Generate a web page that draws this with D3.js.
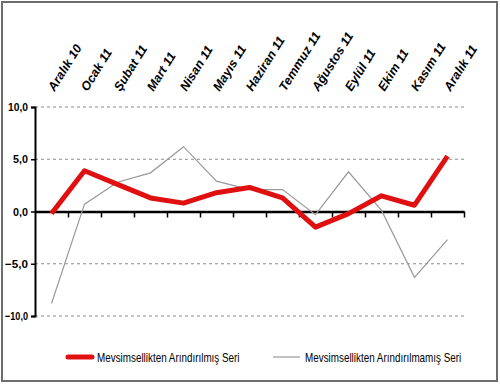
<!DOCTYPE html>
<html>
<head>
<meta charset="utf-8">
<script src="https://cdn.jsdelivr.net/npm/d3@7"></script>
<style>
  body { margin: 0; background: #fff; }
  svg { display: block; }
  text { font-family: "Liberation Sans", Arial, sans-serif; }
</style>
</head>
<body>
<div id="chart"></div>
<script>
const months = ["Aralık 10", "Ocak 11", "Şubat 11", "Mart 11", "Nisan 11", "Mayıs 11", "Haziran 11",
  "Temmuz 11", "Ağustos 11", "Eylül 11", "Ekim 11", "Kasım 11", "Aralık 11"]
const adjusted = [-0.2, 3.9, 2.6, 1.3, 0.8, 1.8, 2.3, 1.3, -1.5, -0.2, 1.5, 0.6, 5.3]
const unadjusted = [-8.8, 0.7, 2.8, 3.7, 6.2, 2.9, 2.1, 2.1, -0.3, 3.8, 0.1, -6.3, -2.7]
const yTicks = [-10, -5, 0, 5, 10]
const seriesNames = ["Mevsimsellikten Arındırılmış Seri", "Mevsimsellikten Arındırılmamış Seri"]

const width = 500
const height = 384
const margins = { top: 107, bottom: 68, left: 35, right: 36 }

const svg = d3.select("#chart")
    .append("svg")
    .attr("width", width)
    .attr("height", height)

// outer frame
svg.append("rect")
    .attr("x", 2).attr("y", 2)
    .attr("width", 495).attr("height", 379)
    .attr("fill", "none")
    .attr("stroke", "#6d6d6d")
    .attr("stroke-width", 2)

const xScale = d3.scaleBand()
    .domain(months)
    .range([margins.left, width - margins.right])

const yScale = d3.scaleLinear()
    .domain([-10, 10])
    .range([height - margins.bottom, margins.top])

const fmt = d => d3.format(".1f")(d).replace(".", ",")

// dashed grid
svg.selectAll("line.grid")
    .data(yTicks.filter(d => d !== 0))
    .join("line")
    .attr("class", "grid")
    .attr("x1", margins.left)
    .attr("x2", width - margins.right)
    .attr("y1", d => yScale(d))
    .attr("y2", d => yScale(d))
    .attr("stroke", "#8c8c8c")
    .attr("stroke-width", 1)
    .attr("stroke-dasharray", "3,3")

// y axis
const yAxis = svg.append("g")
    .attr("transform", `translate(${margins.left},0)`)
    .call(d3.axisLeft(yScale).tickValues(yTicks).tickSize(4).tickFormat(fmt))
yAxis.select(".domain").attr("stroke", "#000").attr("stroke-width", 2)
yAxis.selectAll(".tick line").attr("stroke", "#000").attr("stroke-width", 1.5)
yAxis.selectAll(".tick text")
    .attr("x", -7)
    .attr("font-size", 11.5)
    .attr("font-weight", "bold")
    .attr("fill", "#000")
    .attr("textLength", d => d < 0 ? 23 : (Math.abs(d) >= 10 ? 20 : 15))
    .attr("lengthAdjust", "spacingAndGlyphs")

// x axis on zero line, ticks at band edges
const xTickScale = d3.scaleLinear()
    .domain([0, months.length])
    .range(xScale.range())
const xAxis = svg.append("g")
    .attr("transform", `translate(0,${yScale(0)})`)
    .call(d3.axisBottom(xTickScale).tickValues(d3.range(1, months.length + 1)).tickSize(6).tickSizeOuter(0).tickFormat(""))
xAxis.select(".domain").attr("stroke", "#000").attr("stroke-width", 2.5)
xAxis.selectAll(".tick line").attr("stroke", "#000").attr("stroke-width", 1.5)

// rotated month labels
svg.selectAll("text.month")
    .data(months)
    .join("text")
    .attr("class", "month")
    .attr("transform", d => `translate(${xScale(d) + xScale.bandwidth() / 2 + 3},${margins.top - 15}) rotate(-58)`)
    .attr("font-size", 12.5)
    .attr("font-weight", "bold")
    .attr("font-style", "italic")
    .attr("fill", "#000")
    .text(d => d)

const line = d3.line()
    .x((d, i) => xScale(months[i]) + xScale.bandwidth() / 2)
    .y(d => yScale(d))

svg.append("path")
    .datum(unadjusted)
    .attr("d", line)
    .attr("fill", "none")
    .attr("stroke", "#9a9a9a")
    .attr("stroke-width", 1.2)

svg.append("path")
    .datum(adjusted)
    .attr("d", line)
    .attr("fill", "none")
    .attr("stroke", "#e01010")
    .attr("stroke-width", 5)
    .attr("stroke-linejoin", "round")

// legend (text squeezed horizontally to mimic the narrow original font)
const legendY = 357
const legend = [
  { name: seriesNames[0], x: 68, color: "#e01010", w: 5, len: 24 },
  { name: seriesNames[1], x: 273, color: "#9a9a9a", w: 1.2, len: 27 }
]
const lg = svg.selectAll("g.legend")
    .data(legend)
    .join("g")
    .attr("class", "legend")
    .attr("transform", d => `translate(${d.x},${legendY})`)
lg.append("line")
    .attr("x1", 0).attr("x2", d => d.len)
    .attr("stroke", d => d.color)
    .attr("stroke-width", d => d.w)
    .attr("stroke-linecap", d => d.w > 2 ? "round" : "butt")
lg.append("text")
    .attr("transform", d => `translate(${d.len + 5},0) scale(0.76,1)`)
    .attr("dy", "0.35em")
    .attr("font-size", 13)
    .attr("fill", "#000")
    .text(d => d.name)
</script>
</body>
</html>
